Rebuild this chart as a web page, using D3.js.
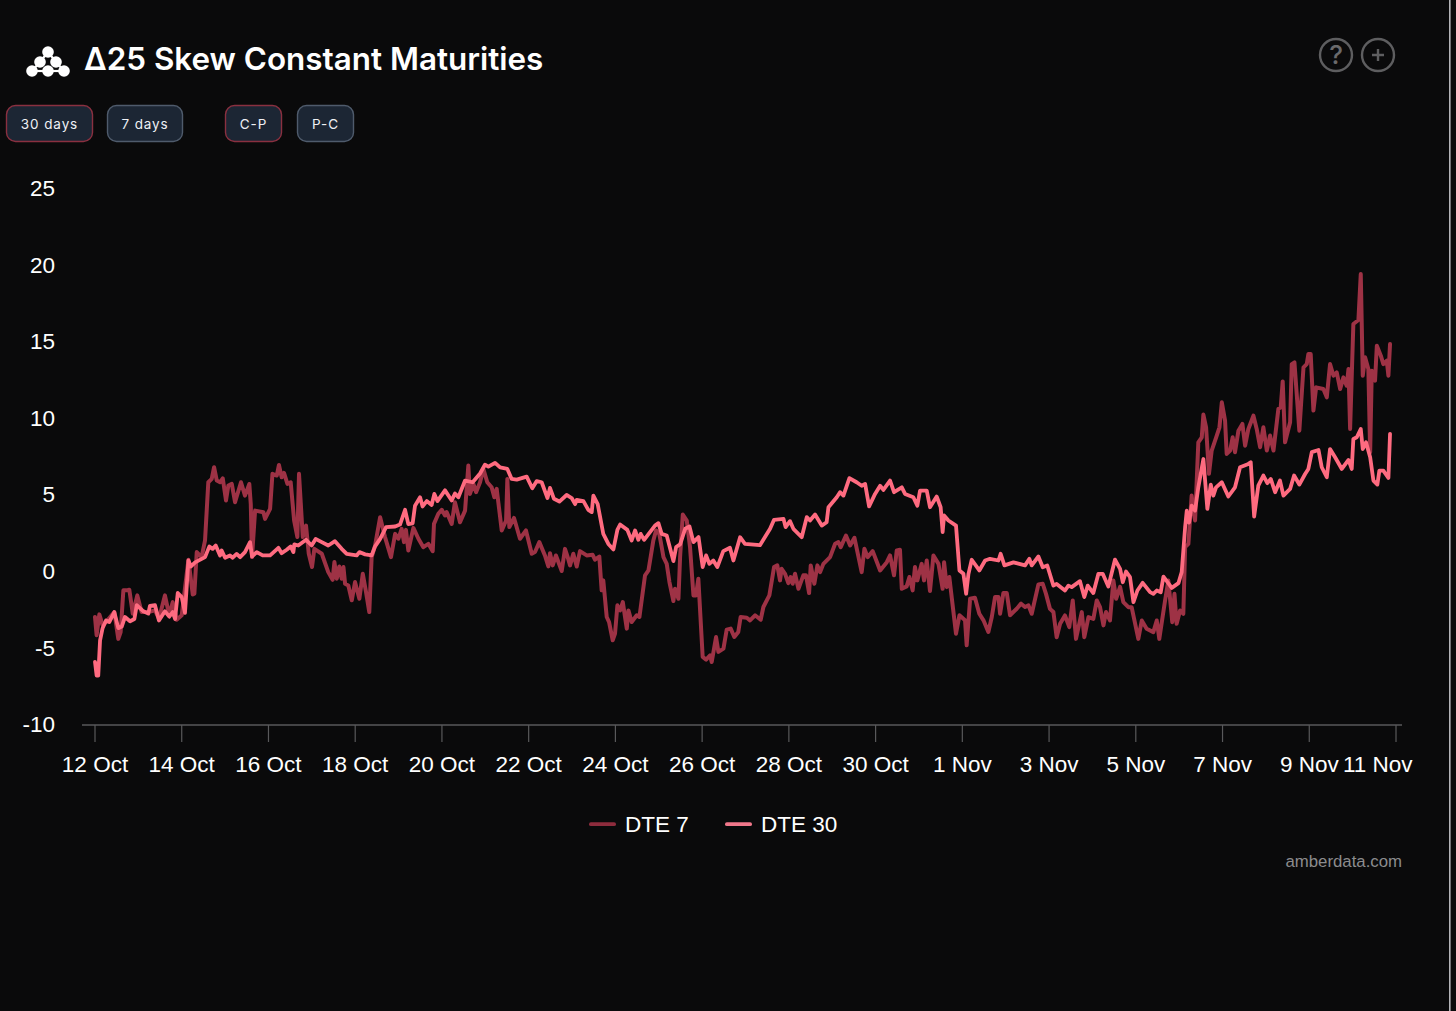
<!DOCTYPE html>
<html><head><meta charset="utf-8">
<script src="https://cdn.jsdelivr.net/npm/d3@7"></script>
<style>html,body{margin:0;background:#0a0a0b;overflow:hidden}svg{display:block}</style>
</head><body><svg id="c" width="1456" height="1011"></svg>
<script>
const title = "Δ25 Skew Constant Maturities";
const periodButtons = ["30 days","7 days"];
const signButtons = ["C-P","P-C"];
const seriesNames = ["DTE 7","DTE 30"];
const yTicks = [-10,-5,0,5,10,15,20,25];
const xTickLabels = ["12 Oct","14 Oct","16 Oct","18 Oct","20 Oct","22 Oct","24 Oct","26 Oct","28 Oct","30 Oct","1 Nov","3 Nov","5 Nov","7 Nov","9 Nov","11 Nov"];
const startDate = Date.UTC(2023,9,12);

const dte30Hours = [0,0.9,1.8,2.8,4.2,6.1,7.9,10.7,12.9,14.8,16.6,19.4,21.8,23.1,26.8,29.5,30.4,33.2,35.4,38.7,41.1,43,44.3,45.8,48,49.8,51.7,53.1,55.4,60.9,63.3,65.1,66.8,69.2,70.1,72,74.7,76.2,78.4,80.3,83,85.8,86.9,89.5,92.8,96.9,101.5,103.3,106.1,108.3,109.8,110.3,112.5,116.8,119.9,122.1,125.5,129.1,132.8,136.5,139.3,144.8,146.3,149.5,153.1,155,157.8,161.1,166.1,168.8,171.6,173.4,175.8,177.1,179.9,181.3,183.6,186.3,187.8,189.5,193.7,197.4,199.2,201.1,204.8,209,213.1,215.8,217.7,221.4,224.2,228.2,230.6,233.4,238.9,242,244.4,247.2,250.4,251.8,254,257,261,263.8,265.7,266.6,270.3,273,274.9,275.8,278.2,281.3,284.1,286.9,289.1,290.6,294.6,297,298.9,300.7,302,303.9,309.9,311.8,313.6,316.4,320.1,321.6,323.8,326.6,329,331.2,334,336.3,338.2,340,342.2,344.4,347.7,351.4,353.3,357,359.7,368,373.6,375.8,381,382.2,384.6,386.5,391.1,393.9,395.7,398.5,402.2,404.9,405.9,410.5,412.3,414.2,417.5,421.5,424.3,426.2,428.4,431.7,434.5,436.3,440,442.2,446.5,448.3,452.9,455.1,456.6,460.3,462.1,465.8,468,469.1,469.9,472.3,476.5,478.4,480.6,482.1,483.4,485.2,489.4,492.6,495.3,500,501.2,503.3,508.3,514.7,517.1,518.4,522.1,524.5,527,530.4,532.2,536.8,538.7,540.5,545.1,547.5,549.4,552.5,555.3,557.7,560.8,564.5,567.3,568.8,570.6,572.8,574.7,576.9,579.8,583.9,585.7,587.6,589.8,591.3,595.9,599.6,601.4,603.3,604.2,605.5,606.9,608.8,610.6,613.4,615.6,617.5,618.9,620.4,623.6,627.2,630.9,633.7,638.3,639.6,641.5,643.8,646.6,648.8,650.7,653.1,655.8,657.7,661.4,663.6,666.5,669.7,671.5,673.4,677.1,678.9,681.7,683.5,686.3,690,693.7,695.5,696.4,698.3,700.5,701.6,703.4,705.7,707.5,709.7,710.8,713,715.8,716.7];
const dte30Values = [-5.9,-6.8,-6.8,-4.5,-3.7,-3.2,-3.3,-2.65,-3.7,-3.6,-2.97,-3.25,-3.1,-2.2,-2.6,-2.75,-2.25,-2.2,-3.2,-2.6,-2.95,-2.65,-3.1,-1.4,-1.67,-2.7,0.72,0.33,0.6,0.94,1.64,1.48,1.7,1.05,1.37,0.9,1.05,0.9,1.15,0.94,1.27,1.92,0.98,1.27,1.05,1.05,1.55,1.2,1.42,1.64,1.27,1.77,1.7,2.07,1.7,2.13,1.92,1.7,1.98,1.48,1.15,1.05,1.27,1.12,1.05,1.64,2.13,2.9,2.94,3.07,4.03,3.1,3.15,4.3,4.85,4.25,4.6,4.35,5.07,4.6,5.3,4.64,5.1,4.85,5.94,5.83,6.4,6.98,6.85,7.1,6.8,6.7,6.05,6,6.2,5.44,5.9,5.83,4.8,5.46,4.75,4.57,5,4.8,4.4,4.68,4.6,4.03,3.88,4.96,4.4,2.46,1.8,1.44,2.72,3.07,2.72,2.03,2.68,2.07,2.46,2.07,3,3.16,2.46,2.35,0.68,1.6,1.77,2.79,2.94,1.92,2.25,0.29,1.05,0.5,0.72,0.29,1.33,1.55,0.72,2.24,1.81,1.72,2.79,3.38,3.44,2.9,3.29,2.79,2.24,3.55,3.33,3.72,3,3.22,4.2,4.85,5.18,4.96,6.1,5.83,5.6,5.72,4.25,5.07,5.6,5.33,5.94,5.18,5.5,5.07,4.85,4.3,5.29,5.29,4.2,4.9,4.2,2.57,3.66,3.33,3,0.07,-0.15,-1.45,-0.15,0.77,0.07,0.72,0.83,0.72,1.16,0.4,0.6,0.4,0.83,0.4,0.98,0.28,0.39,-0.92,-0.81,-1.24,-0.92,-1.02,-0.63,-1.67,-0.92,-1.41,-0.15,-0.15,-0.98,0.78,0.17,-0.7,0,-0.37,-2,-1.24,-0.74,-1.35,-1.46,-1.24,-1.35,-0.33,-1.07,-0.76,-0.04,2.9,3.98,3.2,4.3,3.98,5.5,7.35,4.09,5.68,4.96,5.5,5.83,4.9,5.5,6.81,7.03,7.14,3.59,5.61,6.27,5.77,6.05,5.18,5.94,4.96,5.4,6.27,5.68,6.37,6.7,7.8,7.94,6.81,6.16,8,7.46,6.7,7.29,6.7,8.66,8.77,9.31,8,8.44,7.46,5.94,5.68,6.59,6.59,6.11,8.99];

const dte7Hours = [0,0.9,2.4,4.2,6.1,10.7,12.9,14.2,15.7,17.5,19,20.9,23.4,25.8,29.5,33.2,35.4,38.7,41.1,43,45.2,48,51.7,54.1,55,56.3,59,60.9,62.7,64.6,65.9,67.4,69.2,70.7,72.5,73.8,75.7,77.5,80.8,83,85.4,86.2,86.9,88.6,93.2,94.1,96.9,98.2,100.6,101.8,103.3,104.6,106.5,108.3,110.2,112,112.9,115,116.8,118.3,120.1,121.4,125.5,129.1,131.5,132.5,133.8,135.2,136.5,137.5,138.4,140.2,142.1,143.9,146.3,148.2,150,151.8,153.1,155,157.8,160.5,163.8,166.1,167.9,169.7,171,172.1,173.4,176.2,179,181.7,184.5,186.9,187.6,190,191.9,193.7,194.6,197.4,199.2,202,204.8,206.6,207.5,209.4,210.9,213.1,214.9,217.1,219.5,221,222.3,225.1,227.5,228.2,229.3,231.9,235.2,238.5,241.7,243.5,245.9,249,250.9,251.8,253.3,255.1,258.3,260.1,261.6,262.9,264.7,266.6,268.4,272.1,275.4,276.7,279.1,280.4,281.3,283.2,284.5,286.5,287.8,289.1,290.6,292.1,294.3,295.2,297,299.8,301.3,304.4,306.3,309,310.5,312.3,314.6,316.4,317.9,320.1,321,322.9,323.8,325.3,327.5,329.3,331.2,332.6,333.9,336.3,338.2,340.4,341.3,343.7,345,347.8,349.6,351.8,353.8,356,357.3,360.7,362.5,365.3,368.4,369.9,373.2,375.8,377.6,379.1,380,381.9,383.7,385,386.1,387.4,389.3,392,393.5,395.2,396.1,398.1,399.8,401.3,403.1,406.8,409.6,411.4,412.7,415.6,417.9,420.3,424.3,425.8,427.6,430.4,434.5,438.2,440,442.2,443.7,445.5,446.5,449.2,450.7,452.5,453.8,455.1,457.5,458.8,460.3,462.1,464,466.8,469.1,469.9,471.4,472.8,474.1,476.5,478.4,481.5,482.4,484.3,487,489.4,491.7,494.4,496.3,498.1,500,500.9,502.7,504.6,506.4,510.1,512.5,514.7,516.6,518.4,522.1,524.5,526.3,528.5,530.4,532.2,534.1,536.8,539.2,541.1,542.9,546.1,547.5,549.8,552.5,554.4,556.2,558.1,559.5,561.7,563.6,565.1,567.3,569.1,571.9,573.7,577.4,579.3,582,585.7,587.6,589,592.2,594,596.2,597.4,598.6,600.5,602.3,603.3,605.1,606.9,608.8,610.6,612.5,613.4,614.9,616.5,618,620.8,622.3,623.6,625.4,626.3,628.2,629.6,630.9,632.8,635,636.5,638.3,641.1,642.9,644.8,646.6,648.5,650.3,652.2,654.9,656.2,657.3,658.6,661.4,662.3,663.8,666.5,668.8,670.6,671.5,672.8,674.3,675.8,679.8,681.7,683.5,685.4,687.2,689.1,690.9,692.7,693.7,694.6,696.4,699.2,700.5,701.6,702.9,704.7,705.7,706.6,708.4,709.4,711.6,713,714.9,715.8,716.7];
const dte7Values = [-2.97,-4.17,-2.8,-3.5,-3.3,-2.65,-4.4,-3.95,-1.23,-1.23,-1.19,-2.75,-1.56,-2.65,-2.65,-2.54,-3.08,-1.56,-2.86,-2,-3.15,-2.86,0.77,-1.5,-1.45,1.27,0.94,2.03,5.83,6.05,6.81,5.94,5.83,6.09,4.64,5.62,5.72,4.53,5.83,4.96,5.72,4.42,0.94,3.98,3.87,3.44,4.09,6.38,6.27,6.96,6.16,6.44,5.72,5.83,3.33,2.25,6.38,2.25,3,1.16,0.29,1.48,1.16,-0.04,-0.54,0.62,-0.47,0.33,-0.47,0.29,-0.8,-0.91,-1.88,-0.69,-1.78,-0.15,-1.34,-2.65,0.94,1.7,3.55,2.25,0.94,2.46,2.14,2.79,1.92,2.72,1.37,2.85,2.14,1.59,1.81,1.33,3.11,3.77,4.03,3.66,3.88,3.11,4.53,3.22,3.98,6.92,5.07,5.72,5.18,5.83,6.7,5.83,5.5,4.85,5.4,2.68,3.33,6.05,2.9,3.5,2.14,2.68,1.16,1.27,1.92,1.05,0.33,1.2,0.4,1.05,0.03,1.48,0.94,0.4,1.16,0.33,1.33,1.05,1.09,0.77,0.98,-1.23,-0.58,-2.97,-3.3,-4.49,-4.06,-2.21,-2.54,-2,-3.73,-2.54,-3.3,-2.86,-2.97,-0.25,0.07,2.03,2.68,2.46,0.94,0.5,-0.69,-1.93,-1.12,-1.78,0.94,3.72,3.33,1.59,-1.56,-1.56,-0.47,-5.58,-5.75,-5.47,-5.91,-4.28,-5.25,-5.04,-3.8,-3.73,-4.28,-3.95,-2.97,-3.02,-3.19,-2.86,-3.15,-2.32,-1.56,0.29,0.4,-0.58,0.18,-0.15,-0.76,-0.36,-0.8,-0.15,-1.13,-0.25,-0.25,-1.41,0.4,-0.8,0.4,-0.04,0.5,0.94,1.81,1.92,1.59,2.35,1.7,2.2,-0.04,1.49,0.94,1.33,0.07,0.61,1.05,-0.25,1.38,1.42,-1.13,-0.97,-0.36,-1.23,0.29,-0.58,0.5,-0.58,0.72,-1.28,1.05,0.5,-1.13,0.61,-1.02,-0.36,-1.67,-4.06,-2.86,-3.19,-4.82,-1.78,-1.71,-2.76,-3.19,-3.95,-2.97,-1.67,-1.67,-2.76,-1.41,-1.41,-2.86,-2.43,-2.1,-2.32,-2.21,-2.76,-0.84,-0.8,-1.46,-2.44,-2.65,-4.29,-3.42,-2.87,-3.63,-1.89,-4.4,-2.65,-4.29,-2.98,-3.09,-1.89,-2.33,-3.52,-2.65,-3.2,-0.59,-1.78,-1,-2,-2.33,-2.33,-4.4,-3.2,-3.74,-3.96,-3.2,-4.4,-1.89,-0.59,-3.31,-1.46,-3.42,-2.55,-2.76,1.59,1.81,4.96,3.33,8.44,8.77,10.25,9.42,6.38,7.9,8.88,9.42,11.05,9.86,7.68,7.9,8.77,7.79,9.2,9.64,8.22,9.31,10.18,9.31,8.12,9.42,7.9,8.88,7.9,10.62,10.73,12.42,8.44,9.75,13.55,13.66,9.2,13.34,13.55,14.21,14.21,10.51,12.03,11.92,11.38,13.55,12.79,13.01,11.92,12.68,12.14,13.23,9.31,16.17,16.43,19.43,12.79,13.99,13.23,7.79,13.12,12.47,14.75,14.1,13.55,13.77,12.79,14.86];

const svg = d3.select("#c");
const bg = "#0a0a0b", textCol = "#ffffff", grey = "#59595b";
const col7 = "#9e3245", col30 = "#ff6b80";
svg.append("rect").attr("width",1456).attr("height",1011).attr("fill",bg);
svg.append("rect").attr("x",1449).attr("y",0).attr("width",1.6).attr("height",1011).attr("fill","#b4b4b8");

const toDate = h => new Date(startDate + h*3600000);
const x = d3.scaleUtc().domain([toDate(0), toDate(720)]).range([95,1396]);
const y = d3.scaleLinear().domain([-10,25]).range([724.6,188.8]);

// logo
const logoNodes = [[48,52],[40,62],[56,62],[32,71],[48,71],[64,71]];
const logo = svg.append("g").attr("fill","#fff").attr("stroke","#fff");
[[3,4],[4,5],[1,3],[2,5],[0,1],[0,2]].forEach(([a,b])=>{
  logo.append("line").attr("x1",logoNodes[a][0]).attr("y1",logoNodes[a][1]).attr("x2",logoNodes[b][0]).attr("y2",logoNodes[b][1]).attr("stroke-width",2.2);
});
logo.selectAll("circle").data(logoNodes).join("circle").attr("cx",d=>d[0]).attr("cy",d=>d[1]).attr("r",5.8).attr("stroke","none");

svg.append("text").attr("x",84).attr("y",70).attr("fill",textCol)
  .style("font","600 31.4px Inter").text(title);

// icons
const ic = svg.append("g").attr("fill","none").attr("stroke","#5e5e60").attr("stroke-width",2.4);
ic.append("circle").attr("cx",1336).attr("cy",55).attr("r",16);
ic.append("circle").attr("cx",1378).attr("cy",55).attr("r",16);
ic.append("path").attr("d","M1372 55H1384M1378 49V61");
svg.append("text").attr("x",1336).attr("y",64).attr("text-anchor","middle").attr("fill","#6a6a6c")
  .style("font","500 26px Inter").text("?");

// buttons
const btns = [
 {t:periodButtons[0],x:6.5,w:86,on:true},{t:periodButtons[1],x:107.5,w:75,on:false},
 {t:signButtons[0],x:225.5,w:56,on:true},{t:signButtons[1],x:297.5,w:56,on:false}];
const bg2 = svg.append("g").selectAll("g").data(btns).join("g");
bg2.append("rect").attr("x",d=>d.x).attr("y",105.5).attr("width",d=>d.w).attr("height",36).attr("rx",9)
  .attr("fill","#1c2634").attr("stroke",d=>d.on?"#8a3040":"#4f5b6c").attr("stroke-width",1.4);
bg2.append("text").attr("x",d=>d.x+d.w/2).attr("y",128.5).attr("text-anchor","middle").attr("fill","#eef0f4")
  .style("font","400 13.5px Inter").style("letter-spacing","0.9px").text(d=>d.t);

// axes
svg.append("line").attr("x1",82).attr("x2",1402).attr("y1",725).attr("y2",725).attr("stroke",grey).attr("stroke-width",1.5);
const tickDates = xTickLabels.map((l,i)=>toDate(i*48));
svg.append("g").selectAll("line").data(tickDates).join("line")
  .attr("x1",d=>x(d)).attr("x2",d=>x(d)).attr("y1",725).attr("y2",742).attr("stroke",grey).attr("stroke-width",1.2);
const axisFont = "400 22.5px 'Liberation Sans'";
const lastLabel = xTickLabels.length-1;
svg.append("g").selectAll("text").data(xTickLabels).join("text")
  .attr("x",(d,i)=>i===lastLabel ? 1412.5 : x(tickDates[i])).attr("y",772)
  .attr("text-anchor",(d,i)=>i===lastLabel ? "end" : "middle").attr("fill",textCol)
  .style("font",axisFont).text(d=>d);
svg.append("g").selectAll("text").data(yTicks).join("text")
  .attr("x",55).attr("y",d=>y(d)+7.5).attr("text-anchor","end").attr("fill",textCol)
  .style("font",axisFont).text(d=>d);

// lines
const line = d3.line().x(d=>x(toDate(d[0]))).y(d=>y(d[1])).curve(d3.curveLinear);
svg.append("path").datum(d3.zip(dte7Hours,dte7Values)).attr("d",line).attr("fill","none")
  .attr("stroke",col7).attr("stroke-width",4).attr("stroke-linejoin","round").attr("stroke-linecap","round");
svg.append("path").datum(d3.zip(dte30Hours,dte30Values)).attr("d",line).attr("fill","none")
  .attr("stroke",col30).attr("stroke-width",3.8).attr("stroke-linejoin","round").attr("stroke-linecap","round");

// legend
const leg = [{n:seriesNames[0],c:"#8e2c3d",x:589},{n:seriesNames[1],c:"#f0778a",x:725}];
const lg = svg.append("g").selectAll("g").data(leg).join("g");
lg.append("rect").attr("x",d=>d.x).attr("y",822.3).attr("width",27).attr("height",3.8).attr("rx",1.9).attr("fill",d=>d.c);
lg.append("text").attr("x",d=>d.x+36).attr("y",832).attr("fill",textCol).style("font",axisFont).text(d=>d.n);

svg.append("text").attr("x",1402).attr("y",867).attr("text-anchor","end").attr("fill","#8c8c8e")
  .style("font","400 16.8px 'Liberation Sans'").text("amberdata.com");
</script></body></html>
